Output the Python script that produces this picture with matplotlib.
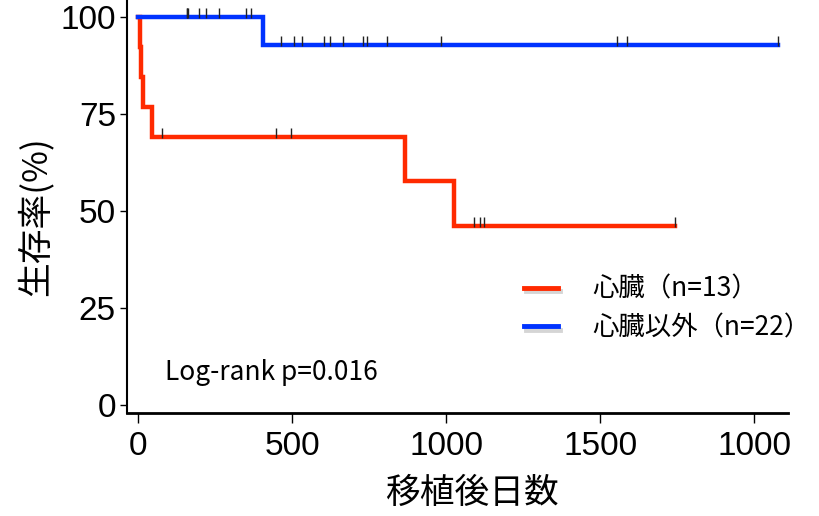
import numpy as np
import matplotlib
matplotlib.use("Agg")
import matplotlib.pyplot as plt
import matplotlib.patheffects as pe
from matplotlib import font_manager
from matplotlib.lines import Line2D

# Survival data (days after transplant, 1 = death, 0 = censored)
heart_days = [6, 11, 16, 46, 79, 449, 498, 867, 1027, 1090, 1110, 1124, 1743]
heart_event = [1, 1, 1, 1, 0, 0, 0, 1, 1, 0, 0, 0, 0]
other_days = [158, 158, 163, 199, 221, 262, 351, 366, 406, 464, 505, 533, 604,
              624, 666, 731, 744, 808, 983, 1554, 1587, 2076]
other_event = [0] * 8 + [1] + [0] * 13

series_labels = ["心臓（n=13）", "心臓以外（n=22）"]
x_ticks = [0, 500, 1000, 1500, 2000]
x_tick_labels = ["0", "500", "1000", "1500", "1000"]
y_ticks = [0, 25, 50, 75, 100]
pvalue_text = "Log-rank p=0.016"

available = {f.name for f in font_manager.fontManager.ttflist}
narrow = next((f for f in ["Liberation Sans Narrow", "Liberation Sans", "DejaVu Sans"]
               if f in available), "DejaVu Sans")
cjk = ["Noto Sans CJK JP", "DejaVu Sans"]


def kaplan_meier(days, events):
    d = np.asarray(days, float)
    e = np.asarray(events, int)
    order = np.argsort(d, kind="stable")
    d, e = d[order], e[order]
    n = len(d)
    t_steps, s_steps = [0.0], [1.0]
    s = 1.0
    censored = []
    for i, (t, ev) in enumerate(zip(d, e)):
        at_risk = n - i
        if ev:
            s *= (at_risk - 1) / at_risk
            t_steps.append(t)
            s_steps.append(s)
        else:
            censored.append((t, s * 100))
    t_steps.append(d.max())
    s_steps.append(s)
    return np.array(t_steps), np.array(s_steps) * 100, censored


fig = plt.figure(figsize=(8.19, 5.16), dpi=100)
ax = fig.add_axes([127 / 819, 1 - 413 / 516, (788 - 127) / 819, 413 / 516])

colors = ["#ff2a00", "#0033ff"]
groups = [(heart_days, heart_event), (other_days, other_event)]
for (days, events), col in zip(groups, colors):
    t, s, cens = kaplan_meier(days, events)
    ax.step(t, s, where="post", color=col, lw=3.2, solid_joinstyle="miter", zorder=2)
    if cens:
        ct = [c[0] for c in cens]
        cs = [c[1] + 1.0 for c in cens]
        ax.plot(ct, cs, ls="none", marker="|", ms=7, mew=1.0, color="#222222", zorder=3)

ax.set_xlim(-36, 2110)
ax.set_ylim(-2, 104.4)
ax.spines["top"].set_visible(False)
ax.spines["right"].set_visible(False)
ax.spines["left"].set_linewidth(1.5)
ax.spines["bottom"].set_linewidth(2.0)
ax.set_xticks(x_ticks)
ax.set_xticklabels(x_tick_labels)
ax.set_yticks(y_ticks)
ax.tick_params(axis="x", length=7, width=1, pad=6, labelsize=24)
ax.tick_params(axis="y", length=5, width=1, pad=3, labelsize=24)
for lab in ax.get_xticklabels() + ax.get_yticklabels():
    lab.set_family(narrow)

fig.text(35 / 819, 1 - 216 / 516, "生存率(%)", rotation=90, ha="center", va="center",
         fontsize=25, family=cjk)
fig.text(472 / 819, 1 - 493 / 516, "移植後日数", ha="center", va="center",
         fontsize=25, family=cjk)

ax.text(165 / 819, 1 - 372 / 516, pvalue_text, transform=fig.transFigure,
        ha="left", va="center", fontsize=19, family=cjk)

shadow = [pe.SimpleLineShadow(offset=(1.5, -2.5), shadow_color="#888888", alpha=0.35),
          pe.Normal()]
handles = [Line2D([], [], color=c, lw=3.5, path_effects=shadow) for c in colors]
leg = ax.legend(handles, series_labels, loc="upper left",
                bbox_to_anchor=(500 / 819, 1 - 252 / 516), bbox_transform=fig.transFigure,
                frameon=False, handlelength=1.3, handletextpad=1.3, labelspacing=0.45,
                prop={"family": cjk, "size": 19})

fig.savefig("out.png", dpi=100, facecolor="white")
